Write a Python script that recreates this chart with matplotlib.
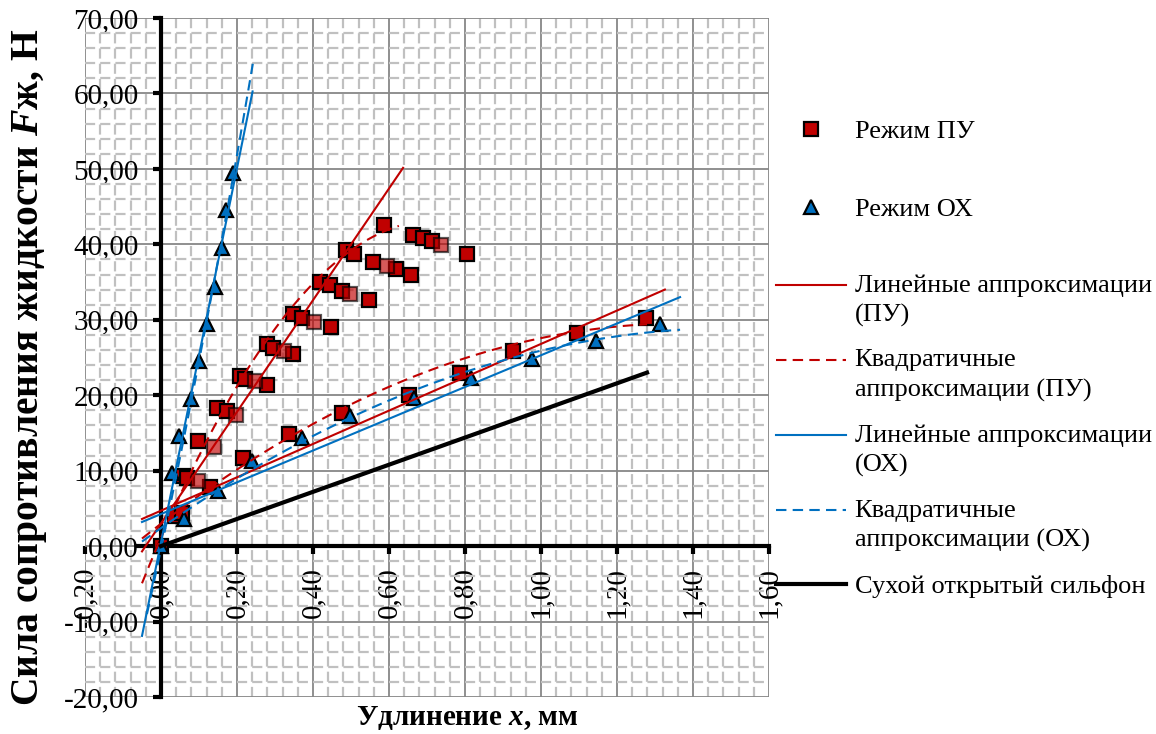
import numpy as np
import matplotlib
matplotlib.use("Agg")
import matplotlib.pyplot as plt
from matplotlib.ticker import MultipleLocator, FuncFormatter
from matplotlib.legend_handler import HandlerLine2D
from matplotlib.lines import Line2D

plt.rcParams['font.family'] = ['Liberation Serif', 'DejaVu Serif']
plt.rcParams['mathtext.fontset'] = 'custom'
plt.rcParams['mathtext.it'] = 'Liberation Serif:bold:italic'
plt.rcParams['mathtext.rm'] = 'Liberation Serif:bold'

# --- data ---
# Режим ПУ (dark markers)
pu_x = [0.00, 0.037, 0.055, 0.058, 0.068, 0.129, 0.097, 0.147, 0.174, 0.208, 0.221,
        0.279, 0.216, 0.279, 0.295, 0.347, 0.337, 0.347, 0.371, 0.447, 0.418, 0.445,
        0.476, 0.547, 0.476, 0.487, 0.508, 0.558, 0.618, 0.658, 0.587, 0.663, 0.689,
        0.713, 0.805, 0.653, 0.787, 0.926, 1.095, 1.276]
pu_y = [0.0, 4.0, 4.4, 9.3, 9.0, 7.9, 13.9, 18.3, 17.9, 22.5, 22.1,
        21.3, 11.7, 26.8, 26.2, 25.4, 14.8, 30.7, 30.2, 29.0, 35.0, 34.6,
        33.8, 32.6, 17.7, 39.2, 38.7, 37.7, 36.7, 36.0, 42.6, 41.2, 40.8,
        40.4, 38.7, 20.0, 22.9, 25.8, 28.2, 30.2]
# Режим ПУ (lighter markers)
pu2_x = [0.097, 0.139, 0.197, 0.247, 0.324, 0.403, 0.497, 0.595, 0.737]
pu2_y = [8.6, 13.1, 17.4, 21.9, 25.8, 29.7, 33.4, 37.1, 39.9]

# Режим ОХ
ox_x = [0.00, 0.028, 0.047, 0.079, 0.100, 0.121, 0.142, 0.161, 0.171, 0.189,
        0.060, 0.150, 0.240, 0.370, 0.497, 0.666, 0.816, 0.976, 1.145, 1.313]
ox_y = [0.0, 9.7, 14.6, 19.5, 24.5, 29.4, 34.4, 39.5, 44.5, 49.5,
        3.6, 7.3, 11.3, 14.3, 17.2, 19.6, 22.3, 24.8, 27.2, 29.4]

# trendlines: coefficients (low order first) and x ranges
lin_pu_coef = [[3.0, 74.0], [4.7, 22.1]]
lin_pu_range = [[-0.05, 0.637], [-0.05, 1.326]]
quad_pu_coef = [[1.1, 116.5, -80.6], [2.97, 38.7, -14.1]]
quad_pu_range = [[-0.05, 0.626], [-0.05, 1.279]]
lin_ox_coef = [[0.5, 248.0], [4.25, 21.05]]
lin_ox_range = [[-0.05, 0.241], [-0.05, 1.366]]
quad_ox_coef = [[-0.4, 237.0, 121.0], [2.39, 35.2, -11.68]]
quad_ox_range = [[-0.037, 0.242], [-0.05, 1.366]]

# сухой открытый сильфон
dry_x = [0.0, 1.279]
dry_y = [0.0, 23.0]

RED = '#C00000'
BLUE = '#0070C0'
MS = 10.5

fig = plt.figure(figsize=(11.56, 7.34), dpi=100)
ax = fig.add_axes([85 / 1156, 37 / 734, 684 / 1156, 679 / 734])

ax.plot(pu_x, pu_y, 's', ms=MS, mfc=RED, mec='black', mew=1.6, zorder=3)
ax.plot(pu2_x, pu2_y, 's', ms=MS, mfc=RED, mec='black', mew=1.6, alpha=0.65, zorder=3)
ax.plot(ox_x, ox_y, '^', ms=MS, mfc=BLUE, mec='black', mew=1.6, zorder=3)


def draw_fit(coefs, ranges, color, ls):
    for c, (x0, x1) in zip(coefs, ranges):
        xs = np.linspace(x0, x1, 60)
        ax.plot(xs, np.polyval(c[::-1], xs), color=color, lw=1.5, ls=ls, zorder=4)


draw_fit(lin_pu_coef, lin_pu_range, RED, '-')
draw_fit(quad_pu_coef, quad_pu_range, RED, (0, (5, 3)))
draw_fit(lin_ox_coef, lin_ox_range, BLUE, '-')
draw_fit(quad_ox_coef, quad_ox_range, BLUE, (0, (5, 3)))
ax.plot(dry_x, dry_y, color='black', lw=3, zorder=4)

# axes
ax.set_xlim(-0.2, 1.6)
ax.set_ylim(-20, 70)
ax.xaxis.set_major_locator(MultipleLocator(0.2))
ax.xaxis.set_minor_locator(MultipleLocator(0.04))
ax.yaxis.set_major_locator(MultipleLocator(10))
ax.yaxis.set_minor_locator(MultipleLocator(2))
fmt = FuncFormatter(lambda v, p: f"{v:.2f}".replace('.', ',').replace('-0,00', '0,00'))
ax.xaxis.set_major_formatter(fmt)
ax.yaxis.set_major_formatter(fmt)

ax.spines['left'].set_position(('data', 0))
ax.spines['bottom'].set_position(('data', 0))
ax.spines['bottom'].set_bounds(-0.062, 1.6)
ax.spines['top'].set_visible(False)
ax.spines['right'].set_visible(False)
for s in ('left', 'bottom'):
    ax.spines[s].set_linewidth(3)
    ax.spines[s].set_zorder(2.5)

ax.tick_params(which='major', direction='out', length=6, width=3, labelsize=21)
ax.tick_params(which='minor', length=0)
ax.tick_params(axis='y', pad=10)
ax.tick_params(axis='x', labelrotation=90, pad=9)

ax.set_axisbelow(True)
ax.grid(which='major', color='#878787', lw=1.3)
ax.grid(which='minor', color='#c0c0c0', lw=1.6, ls=(0, (4.56, 2.28)))

fig.text(467 / 1156, 1 - 718 / 734, r"Удлинение $\mathit{x}$, мм",
         ha='center', va='center', fontsize=21, fontweight='bold')
fig.text(30 / 1156, 1 - 367 / 734, r"Сила сопротивления жидкости $\mathit{F}$ж, Н",
         ha='center', va='center', rotation=90, fontsize=28.5, fontweight='bold')


# legend: line handle at the first line of a two-line label
class FirstLineHandler(HandlerLine2D):
    def create_artists(self, legend, orig_handle, xdescent, ydescent, width, height,
                       fontsize, trans):
        arts = super().create_artists(legend, orig_handle, xdescent, ydescent, width,
                                      height, fontsize, trans)
        for a in arts:
            a.set_ydata(np.asarray(a.get_ydata()) + 0.57 * fontsize)
        return arts


LEG_FS = 19
mk_handles = [
    Line2D([], [], ls='none', marker='s', ms=MS, mfc=RED, mec='black', mew=1.6),
    Line2D([], [], ls='none', marker='^', ms=MS, mfc=BLUE, mec='black', mew=1.6),
]
leg1 = ax.legend(mk_handles, ['Режим ПУ', 'Режим ОХ'], loc='upper left',
                 bbox_to_anchor=(776 / 1156, 1 - 120 / 734), bbox_transform=fig.transFigure,
                 frameon=False, fontsize=LEG_FS, handlelength=2.65, handletextpad=0.33,
                 borderpad=0, borderaxespad=0, labelspacing=2.05)
ax.add_artist(leg1)

ln_handles = [
    Line2D([], [], color=RED, lw=1.5),
    Line2D([], [], color=RED, lw=1.5, ls=(0, (5, 3))),
    Line2D([], [], color=BLUE, lw=1.5),
    Line2D([], [], color=BLUE, lw=1.5, ls=(0, (5, 3))),
    Line2D([], [], color='black', lw=3),
]
ln_labels = ['Линейные аппроксимации\n(ПУ)', 'Квадратичные\nаппроксимации (ПУ)',
             'Линейные аппроксимации\n(ОХ)', 'Квадратичные\nаппроксимации (ОХ)',
             'Сухой открытый сильфон']
hm = {h: FirstLineHandler() for h in ln_handles[:4]}
leg2 = ax.legend(ln_handles, ln_labels, loc='upper left', handler_map=hm,
                 bbox_to_anchor=(776 / 1156, 1 - 274 / 734), bbox_transform=fig.transFigure,
                 frameon=False, fontsize=LEG_FS, handlelength=2.65, handletextpad=0.33,
                 borderpad=0, borderaxespad=0, labelspacing=0.85)
for t in leg2.get_texts():
    t.set_linespacing(1.42)

fig.savefig('out.png', dpi=100)
